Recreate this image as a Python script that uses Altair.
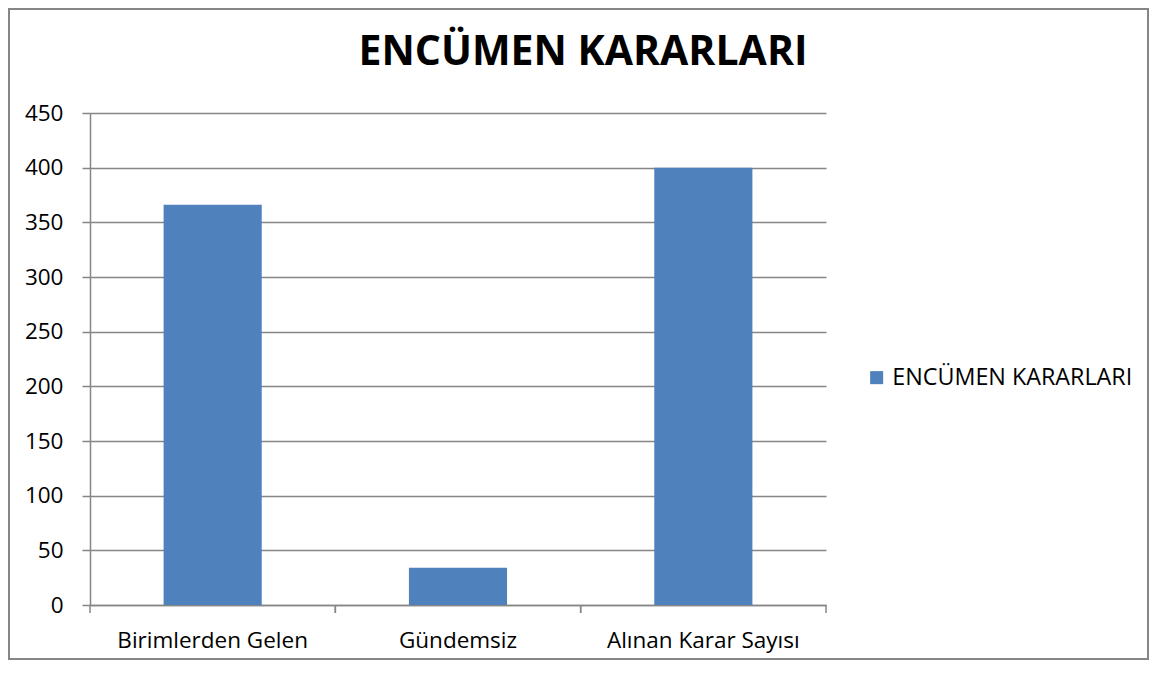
import altair as alt
import pandas as pd

categories = ["Birimlerden Gelen", "Gündemsiz", "Alınan Karar Sayısı"]
values = [366, 34, 400]
series_name = "ENCÜMEN KARARLARI"
y_ticks = [0, 50, 100, 150, 200, 250, 300, 350, 400, 450]

df = pd.DataFrame({"kategori": categories, "deger": values, "seri": [series_name] * len(categories)})

FONT = "Open Sans"
GRID = "#868686"
BAR = "#4F81BD"

x_scale = alt.Scale(domain=categories, paddingInner=0, paddingOuter=0)

bars = alt.Chart(df).mark_bar(width=alt.RelativeBandSize(0.4)).encode(
    x=alt.X("kategori:N", sort=categories, scale=x_scale,
            axis=alt.Axis(title=None, labelAngle=0, labelFontSize=22.5, labelFont=FONT,
                          labelColor="black", tickSize=0, labelPadding=24, labelLimit=400,
                          domainColor=GRID, domainWidth=1.5, grid=False)),
    y=alt.Y("deger:Q", scale=alt.Scale(domain=[0, 450], nice=False),
            axis=alt.Axis(title=None, values=y_ticks, labelFontSize=22.5, labelFont=FONT,
                          labelColor="black", tickSize=8, tickColor=GRID, tickWidth=1.5,
                          labelPadding=19, domainColor=GRID, domainWidth=1.5,
                          grid=True, gridColor=GRID, gridWidth=1.5)),
    color=alt.Color("seri:N", scale=alt.Scale(range=[BAR]),
                    legend=alt.Legend(title=None, orient="none", legendX=775, legendY=253,
                                      symbolType="square", symbolSize=170, symbolStrokeWidth=0,
                                      labelFontSize=23.3, labelFont=FONT, labelColor="black",
                                      labelLimit=400)),
)

tick_l = alt.Chart(df).mark_rule(color=GRID, strokeWidth=1.5).encode(
    x=alt.X("kategori:N", sort=categories, scale=x_scale, bandPosition=0),
    y=alt.value(492), y2=alt.value(500))
tick_r = alt.Chart(df).mark_rule(color=GRID, strokeWidth=1.5).encode(
    x=alt.X("kategori:N", sort=categories, scale=x_scale, bandPosition=1),
    y=alt.value(492), y2=alt.value(500))

border = alt.Chart(pd.DataFrame({"a": [0]})).mark_rect(fill=None, stroke=GRID, strokeWidth=2).encode(
    x=alt.value(-81), x2=alt.value(1058), y=alt.value(-104), y2=alt.value(546))

chart = alt.layer(border, bars, tick_l, tick_r).properties(
    width=736, height=492,
    padding={"left": 82, "top": 105, "right": 324, "bottom": 55},
    autosize=alt.AutoSizeParams(type="none"),
    title=alt.Title(series_name, fontSize=41, font=FONT, fontWeight="bold", color="black",
                    anchor="middle", dx=125, offset=0, dy=66),
).configure_view(stroke=None)

chart.save("out.html", embed_options={"renderer": "svg", "actions": False})
